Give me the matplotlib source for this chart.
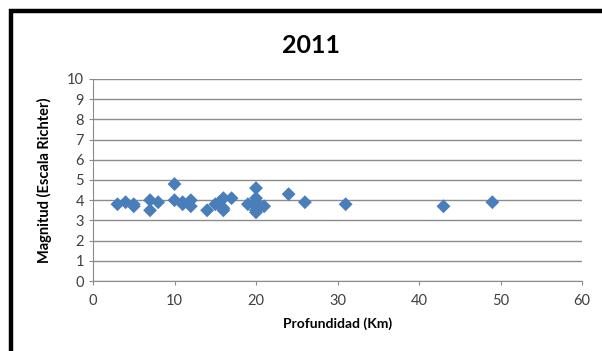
import matplotlib.pyplot as plt
from matplotlib.patches import Rectangle

# ------------------ Datos ----------------------
profundidad = [3, 4, 5, 5, 7, 7, 8, 10, 10, 11, 11, 12, 12, 14, 15,
               15.5, 16, 16, 16, 17, 19, 20, 20, 20, 20, 20, 20, 21,
               24, 26, 31, 43, 49]
magnitud = [3.8, 3.9, 3.8, 3.7, 4.0, 3.5, 3.9, 4.8, 4.0, 3.9, 3.8, 4.0, 3.7, 3.5, 3.8,
            3.9, 3.6, 3.5, 4.1, 4.1, 3.8, 4.6, 4.1, 3.9, 3.7, 3.5, 3.4, 3.7,
            4.3, 3.9, 3.8, 3.7, 3.9]
titulo = "2011"
x_ticks = [0, 10, 20, 30, 40, 50, 60]
y_ticks = list(range(0, 11))

plt.rcParams['font.family'] = ['Lato', 'DejaVu Sans']

fig = plt.figure(figsize=(6.02, 3.51), dpi=100)
ax = fig.add_axes([0.1545, 0.1994, 0.8123, 0.5756])

# marco negro grueso (cortado a la derecha y abajo)
fig.patches.append(Rectangle((11 / 602, -0.5), 3, 1 - 11 / 351 + 0.5,
                             transform=fig.transFigure, fill=False,
                             edgecolor='black', linewidth=3.2, zorder=0))

ax.scatter(profundidad, magnitud, marker='D', s=50, color='#4A7EBB',
           edgecolors='none', zorder=3, clip_on=False)

ax.set_xlim(0, 60)
ax.set_ylim(0, 10)
ax.set_xticks(x_ticks)
ax.set_yticks(y_ticks)
ax.grid(axis='y', color='#8C8C8C', linewidth=1)
ax.set_axisbelow(True)

for s in ['top', 'right']:
    ax.spines[s].set_visible(False)
for s in ['left', 'bottom']:
    ax.spines[s].set_color('#8C8C8C')
ax.tick_params(axis='both', colors='#8C8C8C', labelcolor='#404040',
               labelsize=10.5, length=3, direction='out')
ax.tick_params(axis='x', pad=6)

fig.text(0.517, 0.87, titulo, ha='center', va='center', fontsize=18,
         fontweight='bold', color='black')
ax.set_xlabel("Profundidad (Km)", fontsize=10, fontweight='bold', labelpad=7)
ax.set_ylabel("Magnitud (Escala Richter)", fontsize=10.5, fontweight='bold', labelpad=11)

fig.savefig("out.png", dpi=100)
